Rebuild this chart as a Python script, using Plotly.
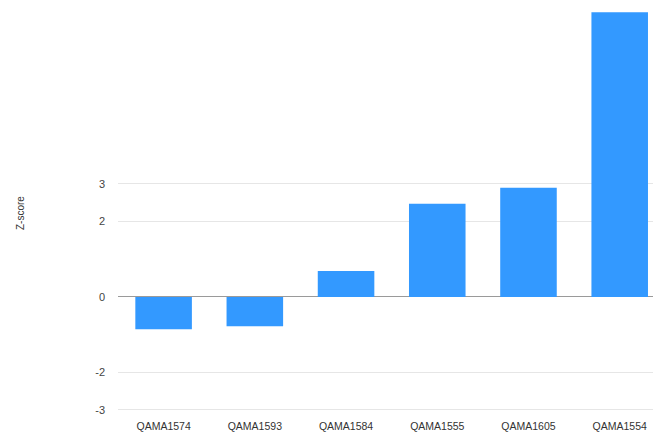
import plotly.graph_objects as go

samples = ["QAMA1574", "QAMA1593", "QAMA1584", "QAMA1555", "QAMA1605", "QAMA1554"]
z_scores = [-0.86, -0.78, 0.69, 2.47, 2.90, 7.56]
y_ticks = [-3, -2, 0, 2, 3]

W, H = 653, 438
ML, MR, MT, MB = 118, 0, 5, 27

fig = go.Figure(
    go.Bar(
        x=list(range(len(samples))),
        y=z_scores,
        marker=dict(color="#3399ff", line=dict(width=0)),
        width=0.62,
        hoverinfo="skip",
    )
)

fig.update_layout(
    width=W,
    height=H,
    margin=dict(l=ML, r=MR, t=MT, b=MB, pad=0),
    plot_bgcolor="white",
    paper_bgcolor="white",
    showlegend=False,
    font=dict(family="Liberation Sans, Arial, sans-serif", size=11, color="#444"),
    xaxis=dict(
        range=[-0.5, 5.365],
        tickmode="array",
        tickvals=list(range(len(samples))),
        ticktext=samples,
        showgrid=False,
        zeroline=False,
        showline=False,
        ticks="",
        ticklabelstandoff=7,
        tickfont=dict(size=10.5, color="#333"),
    ),
    yaxis=dict(
        range=[-3.03, 7.75],
        tickmode="array",
        tickvals=y_ticks,
        ticktext=[str(v) for v in y_ticks],
        showgrid=True,
        gridcolor="#e6e6e6",
        gridwidth=1,
        zeroline=True,
        zerolinecolor="#9a9a9a",
        zerolinewidth=1,
        showline=False,
        ticks="",
        ticklabelstandoff=12,
        tickfont=dict(size=11, color="#444"),
    ),
    annotations=[
        dict(
            text="Z-score",
            xref="paper",
            yref="paper",
            x=(20 - ML) / (W - ML - MR),
            y=(H - MB - 213) / (H - MT - MB),
            xanchor="center",
            yanchor="middle",
            textangle=-90,
            showarrow=False,
            font=dict(size=10, color="#333"),
        )
    ],
)

fig.write_html("out.html")
